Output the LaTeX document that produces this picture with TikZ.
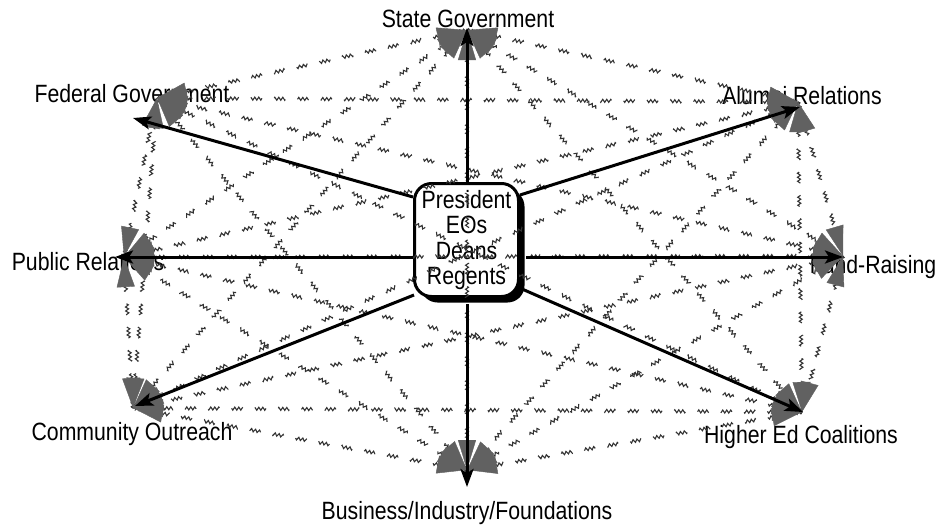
\documentclass[tikz,border=0pt]{standalone}
\usepackage{fontspec}
\setmainfont{Liberation Sans}[FakeStretch=0.85]
\usetikzlibrary{arrows.meta,decorations.pathmorphing,decorations.markings,shadows}
\tikzset{headtip/.tip={Triangle[length=30pt,width=18pt,color=black!62]}}
\begin{document}
\begin{tikzpicture}[x=1pt,y=-1pt,
  lbl/.style={font=\fontsize{25}{25}\selectfont, anchor=base, inner sep=0pt},
  centerbox/.style={draw, line width=3pt, fill=white, rounded corners=17pt,
    minimum width=104pt, minimum height=113pt, align=center, inner sep=0pt,
    font=\fontsize{25}{25.5}\selectfont,
    drop shadow={shadow xshift=6pt, shadow yshift=-6pt, opacity=1, fill=black}},
  wavy/.style={draw=black!80, line width=1.1pt, dash pattern=on 20pt off 22pt,
    decorate, decoration={snake, amplitude=1.5pt, segment length=4pt}},
  heads/.style={decorate, decoration={markings,
    mark=at position 0 with {\arrowreversed{headtip}},
    mark=at position 1 with {\arrow{headtip}}}},
  solidarrow/.style={draw=black, line width=3pt,
    -{Stealth[length=18pt,width=13pt,inset=4pt]}}
]
\useasboundingbox (0,0) rectangle (940,525);

% centre box
\node[centerbox] (box) at (466.5,240) {President\\EOs\\Deans\\Regents};

% labels
\node[lbl] (lS)  at (468,27)  {State Government};
\node[lbl] (lA)  at (802,104) {Alumni Relations};
\node[lbl] (lF)  at (873,273) {Fund-Raising};
\node[lbl] (lH)  at (801,443) {Higher Ed Coalitions};
\node[lbl] (lB)  at (467,519) {Business/Industry/Foundations};
\node[lbl] (lC)  at (132,440) {Community Outreach};
\node[lbl] (lP)  at (88,270)  {Public Relations};
\node[lbl] (lFe) at (132,102) {Federal Government};

% meeting points of the wavy links
\coordinate (wS)  at (467,30);
\coordinate (wA)  at (798,102);
\coordinate (wF)  at (843,256);
\coordinate (wH)  at (802,412);
\coordinate (wB)  at (467,470);
\coordinate (wC)  at (133,408);
\coordinate (wP)  at (124,257);
\coordinate (wFe) at (157,98);

% tips of the solid arrows
\coordinate (tS)  at (467,28);
\coordinate (tA)  at (800,107);
\coordinate (tF)  at (843,257);
\coordinate (tH)  at (803,412);
\coordinate (tB)  at (467,487);
\coordinate (tC)  at (135,406);
\coordinate (tP)  at (115,257);
\coordinate (tFe) at (133,118);

% starts of the solid arrows on the box
\coordinate (sS)  at (467,182);
\coordinate (sA)  at (520,195);
\coordinate (sF)  at (526,257);
\coordinate (sH)  at (522,289);
\coordinate (sB)  at (467,304);
\coordinate (sC)  at (414,295);
\coordinate (sP)  at (413,257);
\coordinate (sFe) at (413,197);

% wavy dashed links between every pair
\foreach \a/\b in {S/A,S/F,S/H,S/B,S/C,S/P,S/Fe,A/F,A/H,A/B,A/C,A/P,A/Fe,
  F/H,F/B,F/C,F/P,F/Fe,H/B,H/C,H/P,H/Fe,B/C,B/P,B/Fe,C/P,C/Fe,P/Fe}{
  \draw[wavy] (w\a) -- (w\b);
}
\foreach \a/\b in {S/A,S/F,S/H,S/B,S/C,S/P,S/Fe,A/F,A/H,A/B,A/C,A/P,A/Fe,
  F/H,F/B,F/C,F/P,F/Fe,H/B,H/C,H/P,H/Fe,B/C,B/P,B/Fe,C/P,C/Fe,P/Fe}{
  \path[heads] (w\a) -- (w\b);
}

% solid arrows from the box
\foreach \k in {S,A,F,H,B,C,P,Fe}{
  \draw[solidarrow] (s\k) -- (t\k);
}
\end{tikzpicture}
\end{document}
